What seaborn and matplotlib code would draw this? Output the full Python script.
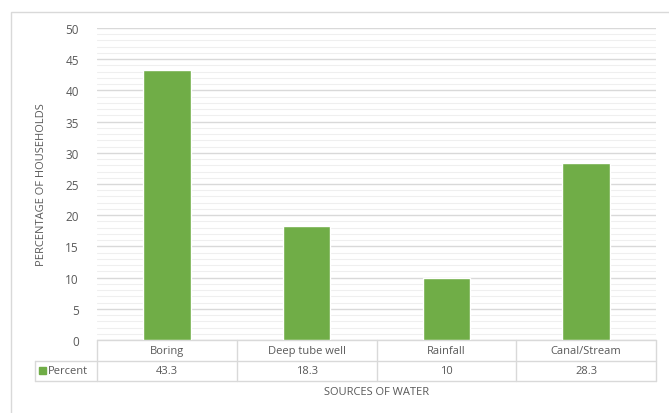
import matplotlib
matplotlib.use("Agg")
import matplotlib.pyplot as plt
import matplotlib.patches as mpatches
import seaborn as sns
import pandas as pd

# data
sources = ["Boring", "Deep tube well", "Rainfall", "Canal/Stream"]
percent = [43.3, 18.3, 10, 28.3]
value_labels = ["43.3", "18.3", "10", "28.3"]
series_name = "Percent"

green = "#70AD47"
txt = "#595959"
grid_major = "#D9D9D9"
grid_minor = "#EFEFEF"

sns.set_theme(style="white")
plt.rcParams["font.family"] = ["Open Sans", "DejaVu Sans"]

df = pd.DataFrame({"source": sources, "percent": percent})

fig = plt.figure(figsize=(6.69, 4.14), dpi=100)
ax = fig.add_axes([97 / 669, 73 / 414, 559 / 669, 312 / 414])

sns.barplot(data=df, x="source", y="percent", color=green, saturation=1,
            width=0.34, ax=ax, zorder=3)

ax.set_ylim(0, 50)
ax.set_xlim(-0.5, 3.5)
ax.set_yticks(range(0, 51, 5))
ax.set_yticks(range(0, 51, 1), minor=True)
ax.grid(which="major", axis="y", color=grid_major, lw=1, zorder=0)
ax.grid(which="minor", axis="y", color=grid_minor, lw=0.8, zorder=0)
ax.tick_params(axis="y", which="both", length=0, labelsize=8.5, labelcolor=txt, pad=13)
ax.set_xticks([])
ax.set_xlabel("")
ax.set_ylabel("PERCENTAGE OF HOUSEHOLDS", fontsize=8, color=txt, labelpad=13)
for s in ax.spines.values():
    s.set_visible(False)

# data table under the chart (axes coordinates)
tr = ax.transAxes
row_h = 20.5 / 312
x_left_tab = (35 - 97) / 559
line_kw = dict(color=grid_major, lw=1, transform=tr, clip_on=False)
# horizontal lines
ax.plot([0, 1], [0, 0], **line_kw)
ax.plot([x_left_tab, 1], [-row_h, -row_h], **line_kw)
ax.plot([x_left_tab, 1], [-2 * row_h, -2 * row_h], **line_kw)
# vertical lines
for i in range(5):
    ax.plot([i / 4, i / 4], [0, -2 * row_h], **line_kw)
ax.plot([x_left_tab, x_left_tab], [-row_h, -2 * row_h], **line_kw)

for i, (src, val) in enumerate(zip(sources, value_labels)):
    xc = (i + 0.5) / 4
    ax.text(xc, -row_h / 2, src, transform=tr, ha="center", va="center",
            fontsize=8, color=txt)
    ax.text(xc, -1.5 * row_h, val, transform=tr, ha="center", va="center",
            fontsize=8, color=txt)

# legend key in table
key_x = (39 - 97) / 559
ax.add_patch(mpatches.Rectangle((key_x, -1.5 * row_h - 3.5 / 312), 7 / 559, 7 / 312,
                                transform=tr, color=green, clip_on=False))
ax.text((48 - 97) / 559, -1.5 * row_h, series_name, transform=tr, ha="left",
        va="center", fontsize=8, color=txt)

ax.text(0.5, -(393 - 341) / 312, "SOURCES OF WATER", transform=tr,
        ha="center", va="center", fontsize=8, color=txt)

# outer chart border
fig.add_artist(mpatches.Rectangle((11 / 669, -0.01), 1, (414 - 13) / 414 + 0.01,
                                  transform=fig.transFigure, fill=False,
                                  edgecolor="#D9D9D9", lw=1))

fig.savefig("out.png", dpi=100)
